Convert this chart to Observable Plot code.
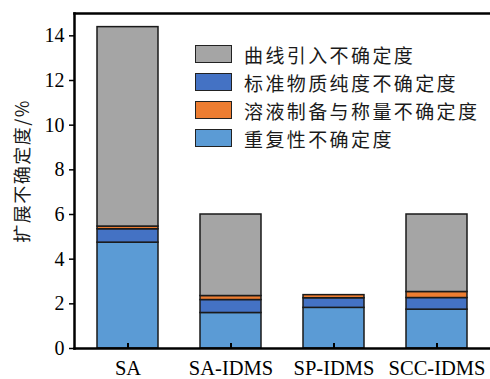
<!DOCTYPE html>
<html><head><meta charset="utf-8">
<script src="https://cdn.jsdelivr.net/npm/d3@7"></script>
<script src="https://cdn.jsdelivr.net/npm/@observablehq/plot@0.6"></script>
<style>
body{margin:0;background:#fff;}
#wrap{position:relative;width:490px;height:379px;overflow:hidden;background:#fff;}
#legend{position:absolute;left:195px;top:40px;font-family:"Noto Sans CJK SC",sans-serif;font-size:19px;letter-spacing:2.4px;color:#1a1a1a;}
#legend .row{display:flex;align-items:center;height:28px;}
#legend .sw{width:35px;height:16px;border:1.5px solid #222;margin-right:12px;box-sizing:content-box;}
</style>
</head><body><div id="wrap"></div>
<script>
const categories = ["SA", "SA-IDMS", "SP-IDMS", "SCC-IDMS"];
const series = ["重复性不确定度", "标准物质纯度不确定度", "溶液制备与称量不确定度", "曲线引入不确定度"];
const colors = ["#5b9bd5", "#4472c4", "#ed7d31", "#a5a5a5"];
const repeatability = [4.74, 1.59, 1.82, 1.74];
const purity = [0.60, 0.58, 0.43, 0.52];
const preparation = [0.12, 0.18, 0.14, 0.27];
const curve = [8.93, 3.65, 0, 3.47];
const yTicks = [0, 2, 4, 6, 8, 10, 12, 14];
const legendOrder = [3, 1, 2, 0];
const yLabel = "扩展不确定度/%";

const values = [repeatability, purity, preparation, curve];
const data = [];
categories.forEach((c, j) => {
  series.forEach((s, i) => data.push({cat: c, series: s, value: values[i][j]}));
});

const H = 379, MT = 13, MB = 31;
const chart = Plot.plot({
  width: 490, height: H,
  marginTop: MT, marginBottom: MB, marginLeft: 74, marginRight: 0,
  style: {fontFamily: '"Liberation Serif", "Noto Sans CJK SC", serif', fontSize: "20px", color: "#000", background: "#fff"},
  x: {domain: categories, paddingInner: 0.404, paddingOuter: 0.21, label: null},
  y: {domain: [0, 15], label: null},
  color: {domain: series, range: colors},
  marks: [
    Plot.barY(data, {x: "cat", y: "value", fill: "series", stroke: "#1a1a1a", strokeWidth: 1.5}),
    Plot.frame({anchor: "left", strokeWidth: 2.5}),
    Plot.frame({anchor: "top", strokeWidth: 2.5}),
    Plot.frame({anchor: "bottom", strokeWidth: 2.5}),
    Plot.axisY({ticks: yTicks, tickSize: 5, tickPadding: 5, tickFormat: d => d, label: null, fontSize: 20, strokeWidth: 1.5}),
    Plot.tickX(categories, {x: d => d, insetTop: H - MT - MB - 5, stroke: "#000", strokeWidth: 2}),
    Plot.axisX({tickSize: 0, tickPadding: 12, label: null, fontSize: 20.5}),
    Plot.text([yLabel], {frameAnchor: "left", textAnchor: "middle", dx: -51, dy: -10, rotate: -90, fontSize: 18, fontFamily: '"Noto Sans CJK SC", sans-serif', fill: "#1a1a1a"})
  ]
});
const wrap = document.getElementById("wrap");
wrap.appendChild(chart);
chart.querySelectorAll("text").forEach(t => { if (t.textContent === yLabel) t.style.letterSpacing = "1.5px"; });

const legend = document.createElement("div");
legend.id = "legend";
legendOrder.forEach(i => {
  const row = document.createElement("div");
  row.className = "row";
  const sw = document.createElement("div");
  sw.className = "sw";
  sw.style.background = colors[i];
  const label = document.createElement("span");
  label.textContent = series[i];
  row.appendChild(sw); row.appendChild(label);
  legend.appendChild(row);
});
wrap.appendChild(legend);
</script>
</body></html>
